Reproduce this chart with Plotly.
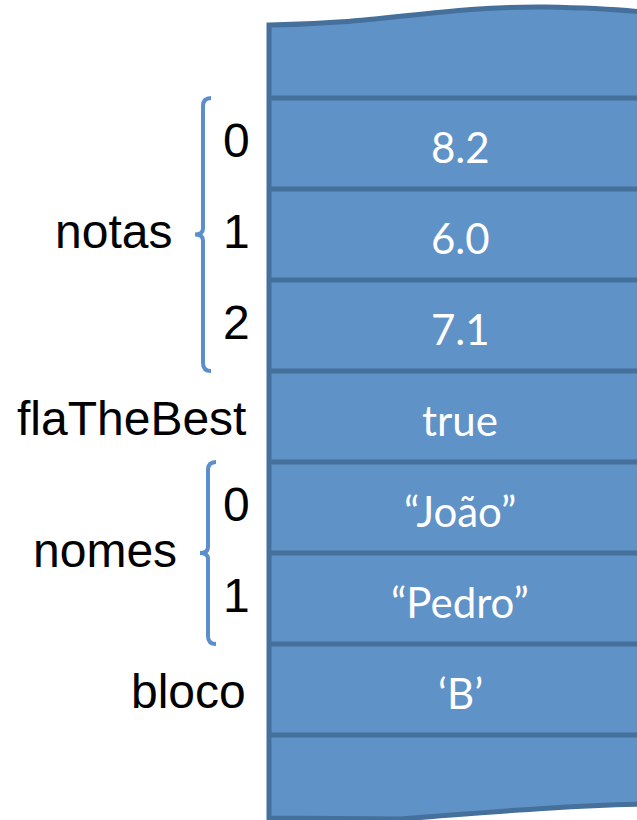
import plotly.graph_objects as go

# ---- data ----
cell_values = ["", "8.2", "6.0", "7.1", "true", "\u201cJo\u00e3o\u201d", "\u201cPedro\u201d", "\u2018B\u2019", ""]
var_names = ["notas", "flaTheBest", "nomes", "bloco"]
var_rows = [[1, 2, 3], [4], [5, 6], [7]]          # which memory cells each variable uses
index_labels = [["0", "1", "2"], [], ["0", "1"], []]

W, H = 637, 820
FILL = "#5F92C7"
EDGE = "#46709C"
BRACE = "#5B8FCB"
LABEL_FONT = "Liberation Sans, Arial, sans-serif"

row_top0 = 98.0
row_h = 91.0
box_left = 269


def row_edge(i):
    return row_top0 + (i - 1) * row_h


shapes = []
# memory block outline with wavy top and bottom
shapes.append(dict(
    type="path", xref="x", yref="y",
    path=("M 269,25 C 380,24 440,6 545,7 C 600,8 630,10 660,14 "
          "L 660,804 C 560,805 470,814 400,819 L 269,818 Z"),
    fillcolor=FILL, line=dict(color=EDGE, width=5), layer="below"))
# row dividers
for i in range(1, len(cell_values)):
    y = row_edge(i)
    shapes.append(dict(type="line", xref="x", yref="y", x0=box_left, x1=660, y0=y, y1=y,
                       line=dict(color=EDGE, width=5)))

annotations = []
# cell values
for i, v in enumerate(cell_values):
    if not v:
        continue
    yc = row_edge(i) + row_h / 2 + 3
    annotations.append(dict(x=460, y=yc, xref="x", yref="y", text=v, showarrow=False,
                            font=dict(family="Lato, Open Sans, sans-serif", size=42, color="white"),
                            xanchor="center", yanchor="middle"))

# variable labels and braces
for name, rows, idx in zip(var_names, var_rows, index_labels):
    top = row_edge(rows[0])
    bot = row_edge(rows[-1] + 1)
    mid = (top + bot) / 2
    if idx:
        bx = 203 if len(rows) == 3 else 208
        path = (f"M {bx+8},{top} Q {bx},{top} {bx},{top+8} L {bx},{mid-6} "
                f"Q {bx},{mid} {bx-8},{mid} Q {bx},{mid} {bx},{mid+6} "
                f"L {bx},{bot-8} Q {bx},{bot} {bx+8},{bot}")
        shapes.append(dict(type="path", xref="x", yref="y", path=path,
                           line=dict(color=BRACE, width=4)))
        for r, lab in zip(rows, idx):
            yc = row_edge(r) + row_h / 2 - 3
            annotations.append(dict(x=236, y=yc, xref="x", yref="y", text=lab, showarrow=False,
                                    font=dict(family=LABEL_FONT, size=48, color="black"),
                                    xanchor="center", yanchor="middle"))
        annotations.append(dict(x=bx - 29, y=mid - 3, xref="x", yref="y", text=name,
                                showarrow=False,
                                font=dict(family=LABEL_FONT, size=48, color="black"),
                                xanchor="right", yanchor="middle"))
    else:
        annotations.append(dict(x=248, y=mid + 2, xref="x", yref="y", text=name, showarrow=False,
                                font=dict(family=LABEL_FONT, size=48, color="black"),
                                xanchor="right", yanchor="middle"))

fig = go.Figure()
fig.update_layout(
    width=W, height=H, margin=dict(l=0, r=0, t=0, b=0),
    paper_bgcolor="white", plot_bgcolor="white",
    xaxis=dict(range=[0, W], visible=False, fixedrange=True),
    yaxis=dict(range=[H, 0], visible=False, fixedrange=True),
    shapes=shapes, annotations=annotations, showlegend=False,
)
fig.write_html("out.html", post_script="document.body.style.margin='0px';",
               config={"displayModeBar": False})
